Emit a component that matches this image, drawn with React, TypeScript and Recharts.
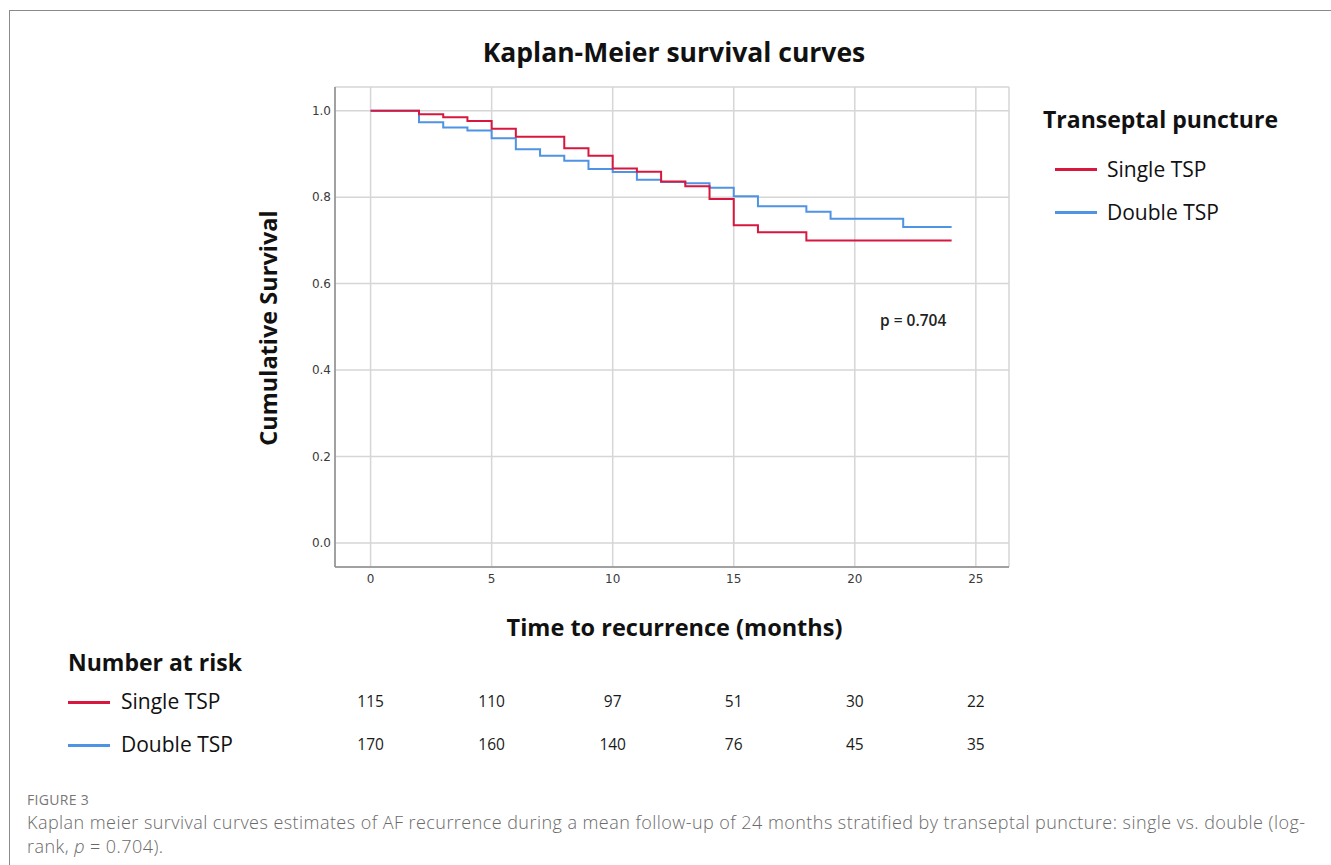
import React from 'react'
import {
  LineChart,
  Line,
  XAxis,
  YAxis,
  CartesianGrid,
  ScatterChart,
  Scatter,
  LabelList,
} from 'recharts'

// survival steps, value holds from that month onwards
const months = [0, 2, 3, 4, 5, 6, 7, 8, 9, 10, 11, 12, 13, 14, 15, 16, 18, 19, 22, 24]
const singleTsp = [
  1.0, 0.992, 0.985, 0.976, 0.958, 0.94, 0.94, 0.913, 0.896, 0.866, 0.859, 0.836, 0.825,
  0.796, 0.735, 0.719, 0.7, 0.7, 0.7, 0.7,
]
const doubleTsp = [
  1.0, 0.973, 0.961, 0.954, 0.936, 0.911, 0.896, 0.884, 0.865, 0.858, 0.84, 0.835, 0.832,
  0.822, 0.802, 0.779, 0.766, 0.75, 0.731, 0.731,
]

const xTicks = [0, 5, 10, 15, 20, 25]
const yTicks = [0, 0.2, 0.4, 0.6, 0.8, 1.0]

// number at risk table
const riskTimes = [0, 5, 10, 15, 20, 25]
const riskSingle = [115, 110, 97, 51, 30, 22]
const riskDouble = [170, 160, 140, 76, 45, 35]
const groups = ['Single TSP', 'Double TSP']

const RED = '#d8173f'
const BLUE = '#4f93e4'
const HEAD_FONT = '"Open Sans", sans-serif'

const survivalData = months.map((t, i) => ({
  t,
  single: singleTsp[i],
  double: doubleTsp[i],
}))

const riskData = [
  ...riskTimes.map((t, i) => ({ t, row: groups[0], n: riskSingle[i] })),
  ...riskTimes.map((t, i) => ({ t, row: groups[1], n: riskDouble[i] })),
]

const X_DOMAIN: [number, number] = [-1.47, 26.37]

const abs = (style: React.CSSProperties): React.CSSProperties => ({
  position: 'absolute',
  whiteSpace: 'nowrap',
  ...style,
})

const LegendLine = ({ color, left, top }: { color: string; left: number; top: number }) => (
  <div style={abs({ left, top, width: 42, height: 3, background: color })} />
)

const tickStyle = { fontSize: 12, fill: '#3a3a3a', fontFamily: '"DejaVu Sans", sans-serif' }

export default function App() {
  return (
    <div
      style={{
        position: 'absolute',
        left: 0,
        top: 0,
        width: 1331,
        height: 865,
        background: '#fff',
        overflow: 'hidden',
        fontFamily: HEAD_FONT,
      }}
    >
      <div
        style={abs({
          left: 9,
          top: 10,
          width: 1340,
          height: 870,
          borderLeft: '1.5px solid #8a8a8a',
          borderTop: '1.5px solid #8a8a8a',
        })}
      />

      <div style={abs({ left: 0, width: 1348, top: 34, textAlign: 'center', fontSize: 26.5, fontWeight: 700, color: '#111' })}>
        Kaplan-Meier survival curves
      </div>

      <div style={abs({ left: 0, top: 0 })}>
        <LineChart
          width={1331}
          height={865}
          data={survivalData}
          margin={{ top: 87, right: 322, bottom: 268, left: 295 }}
        >
          <CartesianGrid stroke="#d6d6d6" strokeWidth={1.5} />
          <XAxis
            type="number"
            dataKey="t"
            domain={X_DOMAIN}
            ticks={xTicks}
            allowDataOverflow
            height={30}
            tickLine={false}
            tickSize={5}
            axisLine={{ stroke: '#8c8c8c', strokeWidth: 1.5 }}
            tick={tickStyle}
          />
          <YAxis
            type="number"
            domain={[-0.0555, 1.0548]}
            ticks={yTicks}
            allowDataOverflow
            width={40}
            tickLine={false}
            tickSize={2}
            axisLine={{ stroke: '#8c8c8c', strokeWidth: 1.5 }}
            tickFormatter={(v: number) => v.toFixed(1)}
            tick={tickStyle}
          />
          <Line
            type="stepAfter"
            dataKey="double"
            stroke={BLUE}
            strokeWidth={2}
            dot={false}
            isAnimationActive={false}
          />
          <Line
            type="stepAfter"
            dataKey="single"
            stroke={RED}
            strokeWidth={2}
            dot={false}
            isAnimationActive={false}
          />
        </LineChart>
      </div>

      <div
        style={abs({
          left: 268,
          top: 328,
          transform: 'translate(-50%, -50%) rotate(-90deg)',
          fontSize: 23.5,
          fontWeight: 700,
          color: '#111',
        })}
      >
        Cumulative Survival
      </div>

      <div style={abs({ left: 0, width: 1349, top: 611, textAlign: 'center', fontSize: 23.5, fontWeight: 700, color: '#111' })}>
        Time to recurrence (months)
      </div>

      <div style={abs({ left: 880, top: 309, fontSize: 15.5, fontWeight: 600, color: '#222' })}>p = 0.704</div>

      {/* legend */}
      <div style={abs({ left: 1043, top: 103, fontSize: 23, fontWeight: 700, color: '#111' })}>
        Transeptal puncture
      </div>
      <LegendLine color={RED} left={1055} top={168} />
      <div style={abs({ left: 1107, top: 155, fontSize: 21, color: '#111' })}>{groups[0]}</div>
      <LegendLine color={BLUE} left={1055} top={211} />
      <div style={abs({ left: 1107, top: 198, fontSize: 21, color: '#111' })}>{groups[1]}</div>

      {/* number at risk */}
      <div style={abs({ left: 68, top: 646, fontSize: 23, fontWeight: 700, color: '#111' })}>Number at risk</div>
      <LegendLine color={RED} left={68} top={701} />
      <div style={abs({ left: 121, top: 687, fontSize: 21, color: '#111' })}>{groups[0]}</div>
      <LegendLine color={BLUE} left={68} top={744} />
      <div style={abs({ left: 121, top: 730, fontSize: 21, color: '#111' })}>{groups[1]}</div>

      <div style={abs({ left: 0, top: 680 })}>
        <ScatterChart width={1331} height={86} margin={{ top: 0, right: 322, bottom: 0, left: 335 }}>
          <XAxis type="number" dataKey="t" domain={X_DOMAIN} allowDataOverflow hide />
          <YAxis type="category" dataKey="row" allowDuplicatedCategory={false} reversed hide />
          <Scatter data={riskData} shape={() => <g />} isAnimationActive={false}>
            <LabelList
              dataKey="n"
              position="center"
              fill="#1a1a1a"
              fontSize={15.5}
              fontFamily={HEAD_FONT}
            />
          </Scatter>
        </ScatterChart>
      </div>

      {/* caption */}
      <div style={abs({ left: 27, top: 790, fontSize: 14, color: '#777', letterSpacing: 0.3 })}>FIGURE 3</div>
      <div
        style={abs({
          left: 27,
          top: 810,
          fontSize: 18,
          color: '#6a6a6a',
          fontWeight: 300,
          lineHeight: '24px',
          letterSpacing: 0.45,
        })}
      >
        Kaplan meier survival curves estimates of AF recurrence during a mean follow-up of 24 months stratified by
        transeptal puncture: single vs. double (log-
        <br />
        rank, <i>p</i> = 0.704).
      </div>
    </div>
  )
}
